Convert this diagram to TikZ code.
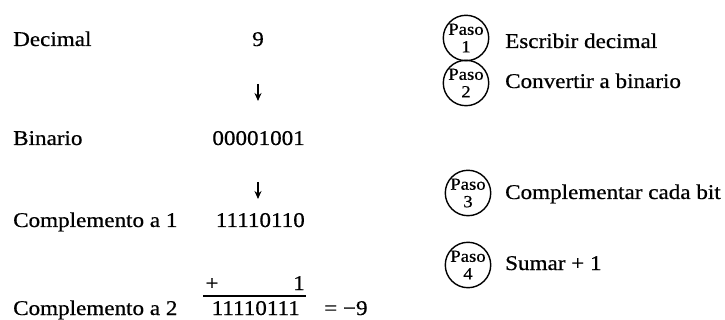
\documentclass[tikz,border=0pt]{standalone}
\usepackage{fontspec}
\setmainfont[FakeStretch=1.1,FakeBold=0.6]{Liberation Serif}
\usetikzlibrary{arrows.meta}
\begin{document}
\begin{tikzpicture}[x=1pt,y=-1pt,
  lbl/.style={anchor=base west, font=\fontsize{21}{23}\selectfont, inner sep=0pt},
  val/.style={anchor=base east, font=\fontsize{21}{23}\selectfont, inner sep=0pt},
  paso/.style={circle, draw, line width=1.4pt, minimum size=45pt, inner sep=0pt, align=center, font=\fontsize{17}{17.5}\selectfont},
  darrow/.style={-{Stealth[length=8pt,width=7pt]}, line width=1.3pt}]
\useasboundingbox (0,0) rectangle (725,320);
% left column
\node[lbl] (dec) at (13,46) {Decimal};
\node[lbl] (bin) at (13,145) {Binario};
\node[lbl] (c1) at (13,227) {Complemento a 1};
\node[lbl] (c2) at (13,315) {Complemento a 2};
% values
\node[val, anchor=base] (nine) at (258,46) {9};
\node[val] (vbin) at (305,145) {00001001};
\node[val] (vc1) at (305,227) {11110110};
\node[val, anchor=base] (plus) at (212,290) {+};
\node[val] (one) at (305,290) {1};
\node[val] (vc2) at (300,315) {11110111};
\node[lbl] (res) at (324,315) {=~−9};
\coordinate (ls) at (203,296);
\coordinate (le) at (306,296);
\draw[line width=1.4pt] (ls) -- (le);
% arrows
\coordinate (a1s) at (258,84);
\coordinate (a1e) at (258,101);
\coordinate (a2s) at (258,182);
\coordinate (a2e) at (258,199);
\draw[darrow] (a1s) -- (a1e);
\draw[darrow] (a2s) -- (a2e);
% steps
\node[paso] (p1) at (466,38) {Paso\\1};
\node[paso] (p2) at (466,83) {Paso\\2};
\node[paso] (p3) at (468,193) {Paso\\3};
\node[paso] (p4) at (468,265) {Paso\\4};
\node[lbl] (s1) at (505,48) {Escribir decimal};
\node[lbl] (s2) at (505,88) {Convertir a binario};
\node[lbl] (s3) at (505,199) {Complementar cada bit};
\node[lbl] (s4) at (505,270) {Sumar + 1};
\end{tikzpicture}
\end{document}
